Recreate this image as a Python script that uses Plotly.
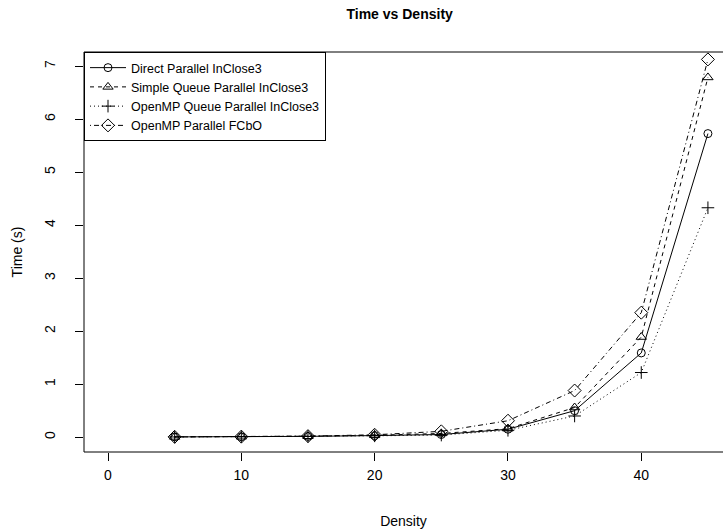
import plotly.graph_objects as go

density = [5, 10, 15, 20, 25, 30, 35, 40, 45]
direct_parallel = [0.005, 0.008, 0.015, 0.03, 0.05, 0.15, 0.50, 1.59, 5.73]
simple_queue = [0.005, 0.009, 0.017, 0.035, 0.07, 0.16, 0.56, 1.89, 6.79]
openmp_queue = [0.004, 0.007, 0.013, 0.025, 0.04, 0.13, 0.40, 1.22, 4.33]
openmp_fcbo = [0.006, 0.010, 0.020, 0.045, 0.11, 0.31, 0.88, 2.35, 7.13]

series = [
    ("Direct Parallel InClose3", direct_parallel, "solid", "circle-open", 8),
    ("Simple Queue Parallel InClose3", simple_queue, "4px,4px", "triangle-up-open", 9),
    ("OpenMP Queue Parallel InClose3", openmp_queue, "1px,3px", "cross-thin-open", 9),
    ("OpenMP Parallel FCbO", openmp_fcbo, "1px,3px,5px,3px", "diamond-open", 10),
]

fig = go.Figure()
for name, vals, dash, sym, size in series:
    fig.add_trace(go.Scatter(
        x=density, y=vals, name=name, mode="lines+markers",
        line=dict(color="black", width=1, dash=dash),
        marker=dict(symbol=sym, size=size, color="black",
                    line=dict(color="black", width=1)),
    ))

font = "Liberation Sans, Arial, Helvetica, sans-serif"
fig.update_layout(
    width=723, height=532,
    margin=dict(l=84, r=0, t=52, b=80),
    paper_bgcolor="white", plot_bgcolor="white",
    font=dict(family=font, size=14, color="black"),
    title=dict(text="<b>Time vs Density</b>", x=0.494, xref="paper",
               y=1 - 14 / 532, yanchor="middle", font=dict(size=14)),
    showlegend=True,
    legend=dict(x=0, y=1, xanchor="left", yanchor="top",
                bordercolor="black", borderwidth=1, bgcolor="white",
                font=dict(size=12.5), tracegroupgap=0,
                itemwidth=36),
    shapes=[dict(type="rect", xref="paper", yref="paper", x0=0, x1=1.05,
                 y0=0, y1=1, line=dict(color="black", width=1),
                 fillcolor="rgba(0,0,0,0)", layer="above")],
)
fig.update_xaxes(
    range=[-1.8, 46.13], tickvals=[0, 10, 20, 30, 40],
    showgrid=False, zeroline=False, showline=False,
    ticks="outside", ticklen=8, tickcolor="black", tickwidth=1,
    tickfont=dict(size=14), ticklabelstandoff=2,
    title=dict(text="Density", standoff=34, font=dict(size=14)),
)
fig.update_yaxes(
    range=[-0.28, 7.27], tickvals=[0, 1, 2, 3, 4, 5, 6, 7],
    tickangle=-90, showgrid=False, zeroline=False, showline=False,
    ticks="outside", ticklen=8, tickcolor="black", tickwidth=1,
    tickfont=dict(size=14), ticklabelstandoff=14,
    title=dict(text="Time (s)", standoff=16, font=dict(size=14)),
)
fig.write_html("out.html")
